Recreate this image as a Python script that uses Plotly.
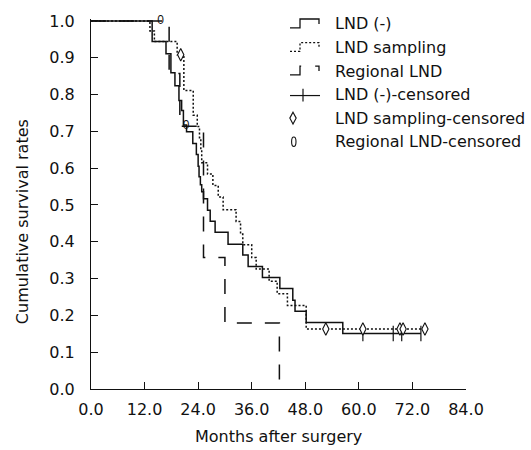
import plotly.graph_objects as go

# ---------------- data ----------------
lnd_neg_t = [0, 13.7, 16.8, 17.9, 18.8, 19.7, 20.3, 20.7, 21.4, 22.8, 23.6, 24.0, 24.2, 24.5,
             24.8, 25.2, 26.1, 26.7, 27.8, 30.7, 34.0, 35.2, 38.4, 42.3, 45.2, 45.7, 48.2, 56.4, 73.9]
lnd_neg_s = [1.0, 0.944, 0.911, 0.859, 0.824, 0.784, 0.757, 0.717, 0.699, 0.667, 0.637, 0.605, 0.577, 0.555,
             0.536, 0.517, 0.486, 0.456, 0.426, 0.393, 0.364, 0.333, 0.303, 0.273, 0.241, 0.211, 0.181, 0.151, 0.151]
lnd_neg_cens_t = [60.9, 67.7, 69.6, 73.9]
lnd_neg_cens_s = [0.151, 0.151, 0.151, 0.151]

lnd_samp_t = [0, 13.2, 14.2, 19.3, 20.8, 22.9, 23.8, 24.3, 24.6, 24.8, 26.1, 27.3, 28.5, 29.6,
              32.5, 33.5, 34.0, 36.0, 37.0, 39.9, 41.7, 44.0, 48.2, 74.8]
lnd_samp_s = [1.0, 0.973, 0.944, 0.908, 0.811, 0.744, 0.713, 0.683, 0.651, 0.615, 0.584, 0.553, 0.522, 0.487,
              0.455, 0.421, 0.392, 0.357, 0.326, 0.293, 0.259, 0.227, 0.163, 0.163]
lnd_samp_cens_t = [20.1, 52.6, 60.9, 69.2, 69.9, 74.8]
lnd_samp_cens_s = [0.908, 0.163, 0.163, 0.163, 0.163, 0.163]

reg_t = [0, 17.5, 19.9, 25.2, 30.0, 42.2]
reg_s = [1.0, 0.857, 0.714, 0.357, 0.179, 0.0]
reg_cens_t = [15.6, 21.3]
reg_cens_s = [1.0, 0.714]

x_ticks = [0, 12, 24, 36, 48, 60, 72, 84]
y_ticks = [0.0, 0.1, 0.2, 0.3, 0.4, 0.5, 0.6, 0.7, 0.8, 0.9, 1.0]

legend_labels = ["LND (-)", "LND sampling", "Regional LND",
                 "LND (-)-censored", "LND sampling-censored", "Regional LND-censored"]

# ---------------- layout geometry (pixels) ----------------
W, H = 531, 450
PLOT_L, PLOT_R = 91, 466          # x = 0 and x = 84
PLOT_T, PLOT_B = 12, 389          # top of plot area, y = 0
ML, MR, MT, MB = PLOT_L, W - PLOT_R, PLOT_T, H - PLOT_B
PW = PLOT_R - PLOT_L
PH = PLOT_B - PLOT_T
FONT = "DejaVu Sans"
INK = "#111111"


def px(x, y):
    """pixel -> paper coordinates"""
    return (x - PLOT_L) / PW, (PLOT_B - y) / PH


fig = go.Figure()

fig.add_trace(go.Scatter(x=lnd_neg_t, y=lnd_neg_s, mode="lines", line_shape="hv",
                         line=dict(color=INK, width=1.5), showlegend=False, hoverinfo="skip"))
fig.add_trace(go.Scatter(x=lnd_samp_t, y=lnd_samp_s, mode="lines", line_shape="hv",
                         line=dict(color=INK, width=1.5, dash="2px,2px"), showlegend=False,
                         hoverinfo="skip"))
fig.add_trace(go.Scatter(x=reg_t, y=reg_s, mode="lines", line_shape="hv",
                         line=dict(color=INK, width=1.5, dash="15px,13px"), showlegend=False,
                         hoverinfo="skip"))

fig.add_trace(go.Scatter(x=lnd_neg_cens_t, y=lnd_neg_cens_s, mode="markers", cliponaxis=False,
                         marker=dict(symbol="line-ns-open", size=11, color=INK,
                                     line=dict(color=INK, width=1.2)),
                         showlegend=False, hoverinfo="skip"))
fig.add_trace(go.Scatter(x=lnd_samp_cens_t, y=lnd_samp_cens_s, mode="markers", cliponaxis=False,
                         marker=dict(symbol="diamond-tall", size=9, color="white",
                                     line=dict(color=INK, width=1.1)),
                         showlegend=False, hoverinfo="skip"))
fig.add_trace(go.Scatter(x=reg_cens_t, y=reg_cens_s, mode="text", cliponaxis=False,
                         text=["0"] * len(reg_cens_t), textposition="middle center",
                         textfont=dict(family="Liberation Sans", size=12, color=INK),
                         showlegend=False, hoverinfo="skip"))

# ---------------- custom legend ----------------
shapes = []
annotations = []
row_y = [17, 41, 65, 89, 113, 137]


def path(points, close=False):
    s = ""
    for i, (x, y) in enumerate(points):
        xp, yp = px(x, y)
        s += ("M" if i == 0 else "L") + f"{xp:.5f},{yp:.5f} "
    return s.strip() + (" Z" if close else "")


dashes = ["solid", "2px,2px", "20px,14px"]
for i in range(3):
    yc = row_y[i]
    pts = [(290, yc + 4), (300, yc + 4), (300, yc - 5), (319, yc - 5), (319, yc)]
    shapes.append(dict(type="path", xref="paper", yref="paper", path=path(pts),
                       line=dict(color=INK, width=1.3, dash=dashes[i])))
# censored (+)
yc = row_y[3]
shapes.append(dict(type="path", xref="paper", yref="paper", path=path([(290, yc + 1), (320, yc + 1)]),
                   line=dict(color=INK, width=1.2)))
shapes.append(dict(type="path", xref="paper", yref="paper", path=path([(303, yc - 6), (303, yc + 7)]),
                   line=dict(color=INK, width=1.2)))
# diamond
yc = row_y[4]
shapes.append(dict(type="path", xref="paper", yref="paper",
                   path=path([(293, yc - 6), (296.2, yc), (293, yc + 6), (289.8, yc)], close=True),
                   line=dict(color=INK, width=1.1)))
# "0"
yc = row_y[5]
x0, y0 = px(291.6, yc + 4.8)
x1, y1 = px(296.0, yc - 4.8)
shapes.append(dict(type="circle", xref="paper", yref="paper", x0=x0, y0=y0, x1=x1, y1=y1,
                   line=dict(color=INK, width=1.1)))

for lab, yc in zip(legend_labels, row_y):
    xp, yp = px(333, yc)
    annotations.append(dict(text=lab, xref="paper", yref="paper", x=xp, y=yp,
                            xanchor="left", yanchor="middle", showarrow=False,
                            font=dict(family=FONT, size=16, color=INK)))

# axis titles
xp, yp = px(278.5, 437)
annotations.append(dict(text="Months after surgery", xref="paper", yref="paper", x=xp, y=yp,
                        xanchor="center", yanchor="middle", showarrow=False,
                        font=dict(family=FONT, size=16, color=INK)))
xp, yp = px(22, 219)
annotations.append(dict(text="Cumulative survival rates", xref="paper", yref="paper", x=xp, y=yp,
                        xanchor="center", yanchor="middle", showarrow=False, textangle=-90,
                        font=dict(family=FONT, size=16, color=INK)))

fig.update_layout(
    width=W, height=H,
    margin=dict(l=ML, r=MR, t=MT, b=MB, pad=0),
    paper_bgcolor="white", plot_bgcolor="white",
    font=dict(family=FONT, size=16, color=INK),
    showlegend=False, hovermode=False,
    shapes=shapes, annotations=annotations,
    xaxis=dict(range=[0, 84], tickvals=x_ticks, tickformat=".1f", ticks="inside", ticklen=7,
               tickwidth=1, tickcolor=INK, showline=True, linecolor=INK, linewidth=1,
               showgrid=False, zeroline=False, ticklabelstandoff=6, ticklabeloverflow="allow",
               tickfont=dict(family=FONT, size=16, color=INK)),
    yaxis=dict(range=[0, PH / 375.0], tickvals=y_ticks, tickformat=".1f", ticks="inside", ticklen=7,
               tickwidth=1, tickcolor=INK, showline=True, linecolor=INK, linewidth=1,
               showgrid=False, zeroline=False, ticklabelstandoff=12, ticklabeloverflow="allow",
               tickfont=dict(family=FONT, size=16, color=INK)),
)

# remove the default 8px page margin so the figure sits at the window's top-left corner
fig.write_html("out.html", config={"displayModeBar": False, "staticPlot": True},
               post_script="document.body.style.margin='0px';")
